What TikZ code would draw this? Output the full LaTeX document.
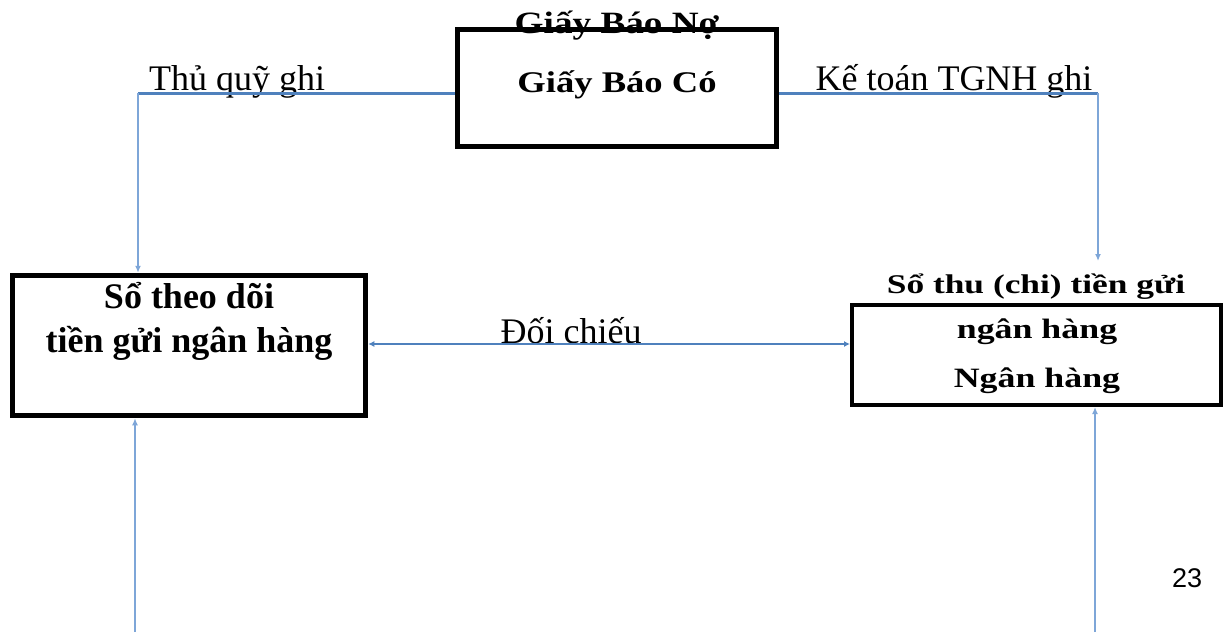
\documentclass[tikz,border=0pt]{standalone}
\usepackage{fontspec}
\usepackage{graphicx}
\setmainfont{Liberation Serif}
\newfontfamily\sansf{Liberation Sans}
\usetikzlibrary{arrows.meta}
\definecolor{lineblue}{HTML}{4F81BD}
\definecolor{lightblue}{HTML}{7EA6D8}
\newcommand{\fs}[1]{\fontsize{#1}{#1}\selectfont}
\newcommand{\wide}[2]{\scalebox{#1}[1]{#2}}
\begin{document}
\begin{tikzpicture}[x=1pt,y=-1pt,
  box/.style={draw=black, rectangle, inner sep=0pt, fill=white},
  lbl/.style={inner sep=0pt, anchor=base},
  conn/.style={draw=lineblue, line width=3pt},
  vconn/.style={draw=lightblue, line width=2pt},
  tipend/.style={-{Latex[length=7pt,width=6pt]}},
  tipboth/.style={{Latex[length=6pt,width=6pt]}-{Latex[length=6pt,width=6pt]}}]
\useasboundingbox (0,0) rectangle (1230,632);

% boxes
\node[box, line width=5pt, minimum width=319pt, minimum height=117pt] (doc) at (617,87.5) {};
\node[box, line width=5.5pt, minimum width=353pt, minimum height=140pt] (left) at (189,345.5) {};
\node[box, line width=4pt, minimum width=369pt, minimum height=100pt] (right) at (1036.5,355) {};

% texts
\node[lbl] (no) at (617,33) {\fs{31}\bfseries\wide{1.2}{Giấy Báo Nợ}};
\node[lbl] (co) at (617,92) {\fs{30}\bfseries\wide{1.22}{Giấy Báo Có}};
\node[lbl] (l1) at (189,308) {\fs{36}\bfseries Sổ theo dõi};
\node[lbl] (l2) at (189,352) {\fs{36}\bfseries tiền gửi ngân hàng};
\node[lbl] (sothu) at (1036,293) {\fs{27}\bfseries\wide{1.31}{Sổ thu (chi) tiền gửi}};
\node[lbl] (r1) at (1037,338) {\fs{28}\bfseries\wide{1.28}{ngân hàng}};
\node[lbl] (r2) at (1037,387) {\fs{28}\bfseries\wide{1.28}{Ngân hàng}};
\node[lbl] (thu) at (237,90) {\fs{36}Thủ quỹ ghi};
\node[lbl] (ke) at (954,90) {\fs{36}Kế toán TGNH ghi};
\node[lbl] (doi) at (571,343) {\fs{36}Đối chiếu};
\node[lbl] (num) at (1187,587) {\fs{27}\sansf 23};

% connectors
\coordinate (lc) at (138,93);
\coordinate (rc) at (1098,93);
\coordinate (rarr) at (1098,261);
\coordinate (lb) at (135,632);
\coordinate (rb) at (1095,632);

\draw[conn] (doc.west |- lc) -- (lc);
\draw[vconn, tipend] (lc) -- (lc |- left.north);
\draw[conn] (doc.east |- rc) -- (rc);
\draw[vconn, tipend] (rc) -- (rarr);
\draw[conn, line width=2.8pt, tipboth] (left.east |- 0,344) -- (right.west |- 0,344);
\draw[vconn, tipend] (lb) -- (lb |- left.south);
\draw[vconn, tipend] (rb) -- (rb |- right.south);
\end{tikzpicture}
\end{document}
